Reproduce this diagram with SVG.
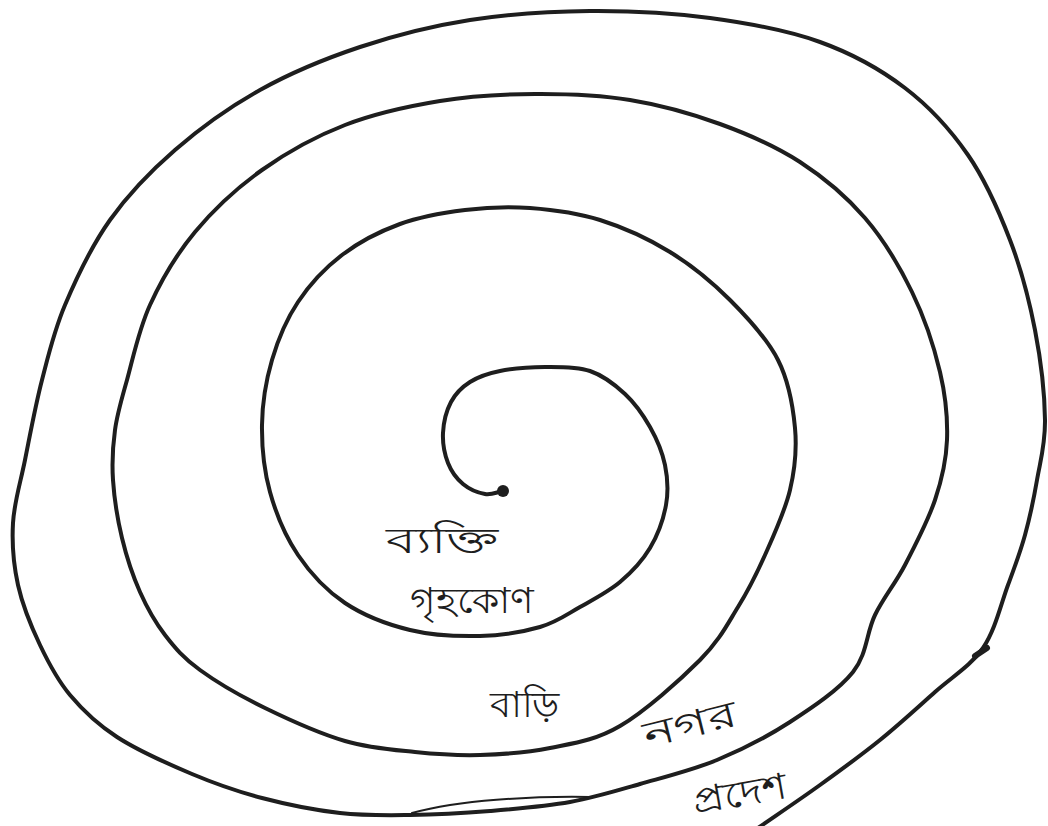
<svg xmlns="http://www.w3.org/2000/svg" width="1048" height="826" viewBox="0 0 1048 826">
<style>
.ink{fill:none;stroke:#1e1e1e;stroke-width:4;stroke-linecap:round;stroke-linejoin:round}
.lbl{font-family:"Noto Sans","DejaVu Sans",sans-serif;font-size:36px;fill:#1e1e1e;text-anchor:middle}
</style>
<rect width="1048" height="826" fill="#ffffff"/>
<g id="connectors">
<path id="spiral" class="ink" d="M503,491 C497,492 491.7,495.2 485,494 S469.2,489.2 463,484 S451.3,471.5 448,463 S442.5,443.2 443,433 S446.5,410.5 451,402 S461.8,387.2 470,382 S487.5,373.5 500,371 S530,367 545,367 S576.7,366.5 590,371 S615,384.7 625,394 S643.3,415.2 650,427 S662.3,452 665,465 S668.5,491.2 666,505 S657.7,535.2 650,548 S631.7,572.2 620,582 S593.3,599.5 580,607 S556.7,622.2 540,627 S501.7,635.5 480,636 S432.5,635.5 410,630 S363.7,615.5 345,603 S310.5,573.5 298,555 S276,513.7 270,492 S261.7,447 262,425 S266,380.5 272,360 S286.3,319.5 298,302 S325,268 342,255 S379.5,231.5 400,224 S443.3,212.7 465,210 S507.5,206.3 530,208 S576.7,212.7 600,220 S648.3,238.7 670,252 S712,282 730,300 S767.2,338.7 778,360 S793,406.3 795,428 S795,468.8 790,490 S773.7,535.5 765,555 S748.8,589.5 738,607 S719.7,640.2 700,660 S645,711.3 620,726 S573.3,743.2 550,748 S502.5,754.3 480,755 S437.5,754.3 415,752 S370,748.3 345,741 S289.2,719.8 265,708 S216.7,682.2 200,670 S175,648 165,635 S147.2,608.2 140,592 S126.5,556.7 122,538 S114.2,498 113,480 S112.7,446.7 115,430 S121.2,400.8 127,380 S138.7,329.7 150,305 S176.3,254.5 195,232 S237,187.8 262,170 S315.3,136.5 345,125 S408.3,106.2 440,101 S503.3,94.2 535,94 S599.2,95 630,100 S691.7,113.7 720,124 S775.8,146.3 800,162 S846.3,196.3 865,218 S899.5,266.3 912,292 S934.2,347.3 940,372 S947.8,418.7 947,440 S942,479.2 935,500 S915,545.8 905,565 S883.7,597.2 875,615 S867.2,654.2 853,672 S812.7,707.3 790,722 S742,749.7 717,760 S664.5,777 640,784 S595,797.5 570,802 S516.7,808.8 490,811 S435,814.7 410,815 S364.7,815.8 340,813 S286.7,804.5 262,798 S216.2,784.2 192,774 S137.3,750.2 117,737 S82.8,710.3 70,695 S48.7,663.3 40,645 S22.5,605.3 18,585 S11.8,543.8 13,523 S20.2,483.8 25,460 S35.3,405.8 42,380 S53.7,331.7 65,305 S91.7,245.8 110,220 S150,171.7 175,150 S229.2,107.2 260,90 S325,58.7 360,47 S431.7,26 470,20 S550,11.3 590,11 S671.7,12.8 710,18 S787.5,30.3 820,42 S880.3,69.2 905,88 S950.5,129.7 968,155 S998.8,210.8 1010,240 S1029.2,300 1035,330 S1044.7,395 1045,420 S1040.3,460.8 1037,480 S1029.8,517.5 1025,535 S1015,566.2 1008,585 S995.2,630.2 983,648 S952.2,676.7 935,692 S899.2,724.5 880,740 S840.8,770 820,785 S776.7,815 755,830"/>
<path class="ink" style="stroke-width:2" d="M412,813 C460,800 530,796 590,797"/>
<path class="ink" style="stroke-width:6" d="M975,656 L987,648"/>
</g>
<g id="center-dot"><circle cx="503" cy="491" r="6" fill="#1e1e1e"/></g>
<g id="label-byakti"><text class="lbl" x="442" y="553" textLength="112" lengthAdjust="spacingAndGlyphs">ব্যক্তি</text></g>
<g id="label-grihakon"><text class="lbl" x="472" y="613" textLength="124" lengthAdjust="spacingAndGlyphs">গৃহকোণ</text></g>
<g id="label-bari"><text class="lbl" x="525" y="717" textLength="70" lengthAdjust="spacingAndGlyphs">বাড়ি</text></g>
<g id="label-nagar"><text class="lbl" x="690" y="737" transform="rotate(-14 690 725)" textLength="95" lengthAdjust="spacingAndGlyphs">নগর</text></g>
<g id="label-pradesh"><text class="lbl" x="740" y="806" transform="rotate(-10 740 795)" textLength="95" lengthAdjust="spacingAndGlyphs">প্রদেশ</text></g>
</svg>
